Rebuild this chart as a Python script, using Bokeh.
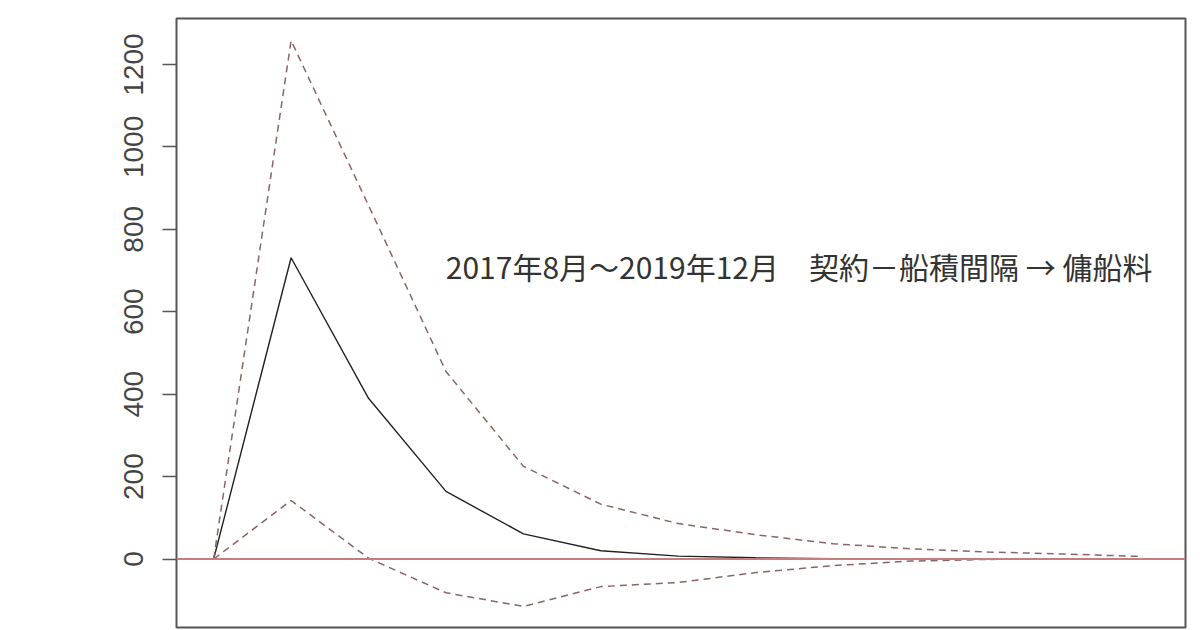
from bokeh.plotting import figure
from bokeh.models import FixedTicker, Range1d, Span, Label
from bokeh.embed import file_html
from bokeh.resources import INLINE

# Impulse response horizon (steps)
horizon = list(range(13))
# Orthogonal impulse response: 契約－船積間隔 -> 傭船料
irf = [0, 731, 390, 164, 61, 20, 7, 3, 1, 0.5, 0.2, 0.1, 0]
# Bootstrap confidence bands
upper = [0, 1258, 858, 455, 225, 133, 86, 59, 37, 25, 17, 12, 6]
lower = [0, 142, 2, -82, -115, -67, -57, -33, -16, -5, -1, 0, 0]
y_ticks = [0, 200, 400, 600, 800, 1000, 1200]
annotation = "2017年8月～2019年12月　契約－船積間隔 → 傭船料"

p = figure(width=1192, height=630, output_backend="svg", toolbar_location=None,
           x_axis_location=None, y_axis_location="left",
           x_range=Range1d(-0.48, 12.55), y_range=Range1d(-166.2, 1311.6),
           min_border_left=176, min_border_right=7, min_border_top=18,
           min_border_bottom=3)
p.background_fill_color = "white"
p.border_fill_color = "white"
p.outline_line_color = "#555555"
p.outline_line_width = 2
p.xgrid.visible = False
p.ygrid.visible = False

ax = p.yaxis[0]
ax.ticker = FixedTicker(ticks=y_ticks)
ax.axis_line_color = None
ax.major_tick_out = 14
ax.major_tick_in = 0
ax.minor_tick_out = 0
ax.minor_tick_in = 0
ax.major_tick_line_color = "#555555"
ax.major_tick_line_width = 1.5
ax.major_label_orientation = "parallel"
ax.major_label_text_font = "Liberation Sans"
ax.major_label_text_font_size = "28px"
ax.major_label_text_color = "#444444"
ax.major_label_standoff = 19

p.line(horizon, irf, line_color="#222222", line_width=1.4)
p.line(horizon, upper, line_color="#8c6464", line_width=1.5, line_dash="7 5")
p.line(horizon, lower, line_color="#8c6464", line_width=1.5, line_dash="7 5")

zero = Span(location=0, dimension="width", line_color="#c47e7e", line_width=2)
p.add_layout(zero)

p.add_layout(Label(x=7.56, y=710, text=annotation, text_align="center",
                   text_baseline="middle", text_font="Noto Sans CJK JP",
                   text_font_size="30px", text_color="#333333"))

open("out.html", "w").write(file_html(p, INLINE))
